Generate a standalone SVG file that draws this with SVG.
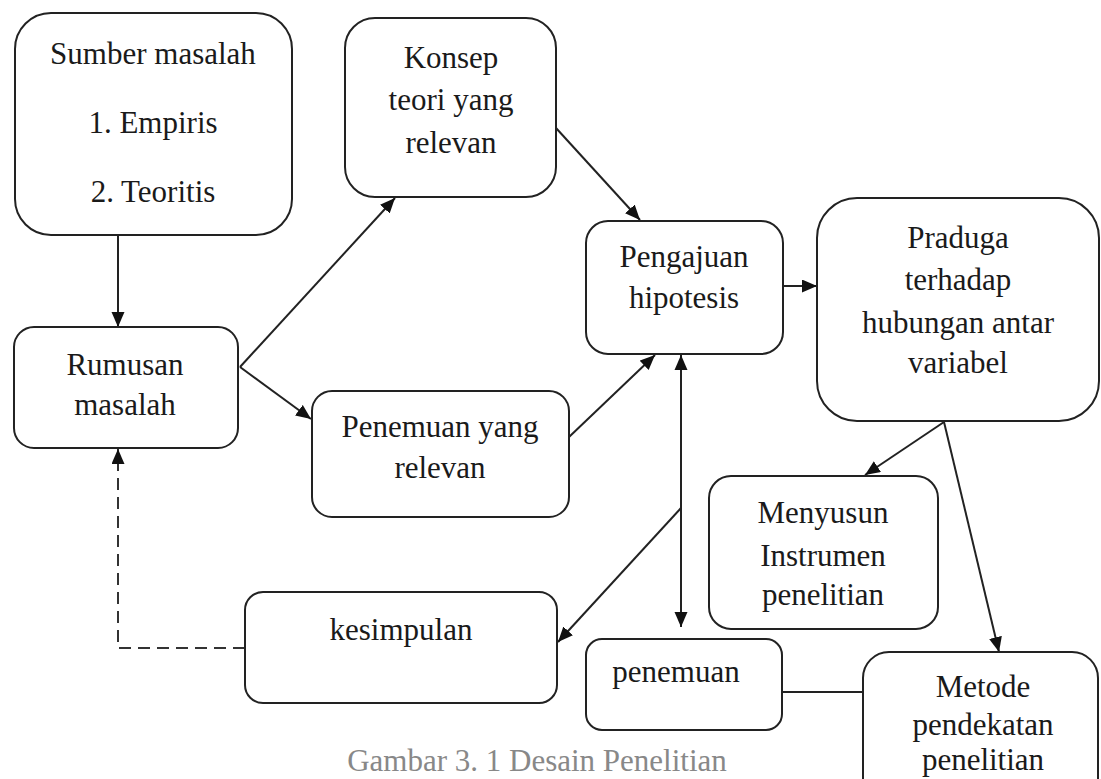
<svg xmlns="http://www.w3.org/2000/svg" width="1101" height="779" viewBox="0 0 1101 779">
<defs>
<style>
.box{fill:#fff;stroke:#222;stroke-width:2}
.t{font-family:'Liberation Serif',Tinos,'Times New Roman',Times,'DejaVu Serif',serif;font-size:31px;fill:#1a1a1a;text-anchor:middle}
.c{fill:none;stroke:#222;stroke-width:2}
.d{fill:none;stroke:#333;stroke-width:2;stroke-dasharray:12 7}
.cap{font-family:'Liberation Serif',Tinos,'Times New Roman',Times,'DejaVu Serif',serif;font-size:31px;fill:#888;text-anchor:middle}
</style>
<marker id="ah" markerUnits="userSpaceOnUse" markerWidth="16" markerHeight="14" refX="15" refY="6.5" orient="auto">
<path d="M0,0 L15,6.5 L0,13 Z" fill="#111"/>
</marker>
<marker id="as" markerUnits="userSpaceOnUse" markerWidth="16" markerHeight="14" refX="0" refY="6.5" orient="auto">
<path d="M15,0 L0,6.5 L15,13 Z" fill="#111"/>
</marker>
</defs>
<rect width="1101" height="779" fill="#fff"/>

<g id="connectors">
<path class="c" d="M118,235 L118,327" marker-end="url(#ah)"/>
<path class="c" d="M240,367 L395,198" marker-end="url(#ah)"/>
<path class="c" d="M240,367 L311,419" marker-end="url(#ah)"/>
<path class="c" d="M556,128 L640,220" marker-end="url(#ah)"/>
<path class="c" d="M569,437 L655,355" marker-end="url(#ah)"/>
<path class="c" d="M783,286 L817,286" marker-end="url(#ah)"/>
<path class="c" d="M681,355 L681,627" marker-start="url(#as)" marker-end="url(#ah)"/>
<path class="c" d="M681,508 L558,642" marker-end="url(#ah)"/>
<path class="c" d="M944,422 L865,475" marker-end="url(#ah)"/>
<path class="c" d="M944,422 L999,652" marker-end="url(#ah)"/>
<path class="c" d="M782,692 L863,692"/>
<path class="d" d="M245,648 L118,648 L118,449" marker-end="url(#ah)"/>
</g>

<g id="sumber">
<rect class="box" x="15" y="13" width="277" height="222" rx="36"/>
<text class="t" x="153" y="64">Sumber masalah</text>
<text class="t" x="153" y="133">1. Empiris</text>
<text class="t" x="153" y="202">2. Teoritis</text>
</g>
<g id="konsep">
<rect class="box" x="345" y="18" width="211" height="179" rx="30"/>
<text class="t" x="451" y="68">Konsep</text>
<text class="t" x="451" y="110">teori yang</text>
<text class="t" x="451" y="153">relevan</text>
</g>
<g id="pengajuan">
<rect class="box" x="586" y="221" width="197" height="133" rx="22"/>
<text class="t" x="684" y="267">Pengajuan</text>
<text class="t" x="684" y="308">hipotesis</text>
</g>
<g id="praduga">
<rect class="box" x="817" y="198" width="282" height="223" rx="40"/>
<text class="t" x="958" y="248">Praduga</text>
<text class="t" x="958" y="290">terhadap</text>
<text class="t" x="958" y="333">hubungan antar</text>
<text class="t" x="958" y="373">variabel</text>
</g>
<g id="rumusan">
<rect class="box" x="14" y="327" width="224" height="121" rx="20"/>
<text class="t" x="125" y="375">Rumusan</text>
<text class="t" x="125" y="415">masalah</text>
</g>
<g id="penemuan-relevan">
<rect class="box" x="312" y="391" width="257" height="126" rx="20"/>
<text class="t" x="440" y="437">Penemuan yang</text>
<text class="t" x="440" y="478">relevan</text>
</g>
<g id="menyusun">
<rect class="box" x="709" y="476" width="229" height="153" rx="22"/>
<text class="t" x="823" y="523">Menyusun</text>
<text class="t" x="823" y="566">Instrumen</text>
<text class="t" x="823" y="605">penelitian</text>
</g>
<g id="kesimpulan">
<rect class="box" x="245" y="592" width="312" height="111" rx="18"/>
<text class="t" x="401" y="640">kesimpulan</text>
</g>
<g id="penemuan">
<rect class="box" x="586" y="639" width="196" height="91" rx="16"/>
<text class="t" x="676" y="682">penemuan</text>
</g>
<g id="metode">
<rect class="box" x="863" y="652" width="235" height="160" rx="26"/>
<text class="t" x="983" y="697">Metode</text>
<text class="t" x="983" y="735">pendekatan</text>
<text class="t" x="983" y="770">penelitian</text>
</g>
<text class="cap" x="537" y="771">Gambar 3. 1 Desain Penelitian</text>
</svg>
